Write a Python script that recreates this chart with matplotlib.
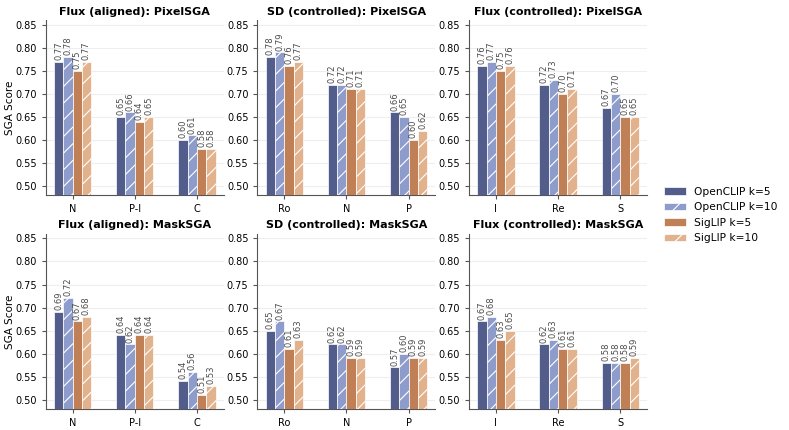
import numpy as np
import matplotlib
matplotlib.use("Agg")
import matplotlib.pyplot as plt

models = ["OpenCLIP k=5", "OpenCLIP k=10", "SigLIP k=5", "SigLIP k=10"]
colors = ["#525d8c", "#8d9ccb", "#c17f56", "#e2b28c"]
hatches = [None, "//", None, "//"]

titles = [
    "Flux (aligned): PixelSGA", "SD (controlled): PixelSGA", "Flux (controlled): PixelSGA",
    "Flux (aligned): MaskSGA", "SD (controlled): MaskSGA", "Flux (controlled): MaskSGA",
]
categories = [
    ["N", "P-I", "C"], ["Ro", "N", "P"], ["I", "Re", "S"],
    ["N", "P-I", "C"], ["Ro", "N", "P"], ["I", "Re", "S"],
]
# scores[panel][category] = [OpenCLIP k=5, OpenCLIP k=10, SigLIP k=5, SigLIP k=10]
flux_aligned_pixel = [[0.77, 0.78, 0.75, 0.77], [0.65, 0.66, 0.64, 0.65], [0.60, 0.61, 0.58, 0.58]]
sd_controlled_pixel = [[0.78, 0.79, 0.76, 0.77], [0.72, 0.72, 0.71, 0.71], [0.66, 0.65, 0.60, 0.62]]
flux_controlled_pixel = [[0.76, 0.77, 0.75, 0.76], [0.72, 0.73, 0.70, 0.71], [0.67, 0.70, 0.65, 0.65]]
flux_aligned_mask = [[0.69, 0.72, 0.67, 0.68], [0.64, 0.62, 0.64, 0.64], [0.54, 0.56, 0.51, 0.53]]
sd_controlled_mask = [[0.65, 0.67, 0.61, 0.63], [0.62, 0.62, 0.59, 0.59], [0.57, 0.60, 0.59, 0.59]]
flux_controlled_mask = [[0.67, 0.68, 0.63, 0.65], [0.62, 0.63, 0.61, 0.61], [0.58, 0.58, 0.58, 0.59]]
scores = [flux_aligned_pixel, sd_controlled_pixel, flux_controlled_pixel,
          flux_aligned_mask, sd_controlled_mask, flux_controlled_mask]

plt.rcParams["hatch.color"] = "white"
plt.rcParams["hatch.linewidth"] = 0.8

fig, axes = plt.subplots(2, 3, figsize=(7.89, 4.3), dpi=100)
fig.subplots_adjust(left=0.058, right=0.82, top=0.953, bottom=0.049, wspace=0.19, hspace=0.22)

width = 0.15
for i, ax in enumerate(axes.flat):
    vals = np.array(scores[i])
    x = np.arange(len(categories[i]))
    for m in range(len(models)):
        pos = x + (m - 1.5) * width
        bars = ax.bar(pos, vals[:, m], width, color=colors[m], hatch=hatches[m],
                      edgecolor="white", linewidth=0.5, label=models[m], zorder=3)
        for b, v in zip(bars, vals[:, m]):
            ax.text(b.get_x() + b.get_width() / 2, v + 0.004, f"{v:.2f}", rotation=90,
                    ha="center", va="bottom", fontsize=6, color="#4a4a4a")
    ax.set_ylim(0.48, 0.86)
    ax.set_yticks(np.arange(0.50, 0.851, 0.05))
    ax.set_xticks(x)
    ax.set_xticklabels(categories[i], fontsize=7)
    ax.tick_params(axis="y", labelsize=7, length=3, color="#555555")
    ax.tick_params(axis="x", length=3, color="#555555")
    ax.set_title(titles[i], fontsize=8, fontweight="bold", pad=4)
    ax.grid(axis="y", color="#eeeeee", linewidth=0.8, zorder=0)
    for s in ["top", "right"]:
        ax.spines[s].set_visible(False)
    for s in ["left", "bottom"]:
        ax.spines[s].set_color("#555555")
    if i % 3 == 0:
        ax.set_ylabel("SGA Score", fontsize=7.5, labelpad=0)

handles, labels = axes[0, 0].get_legend_handles_labels()
fig.legend(handles, labels, loc="center left", bbox_to_anchor=(0.83, 0.5),
           frameon=False, fontsize=7.7)

fig.savefig("out.png", dpi=100)
